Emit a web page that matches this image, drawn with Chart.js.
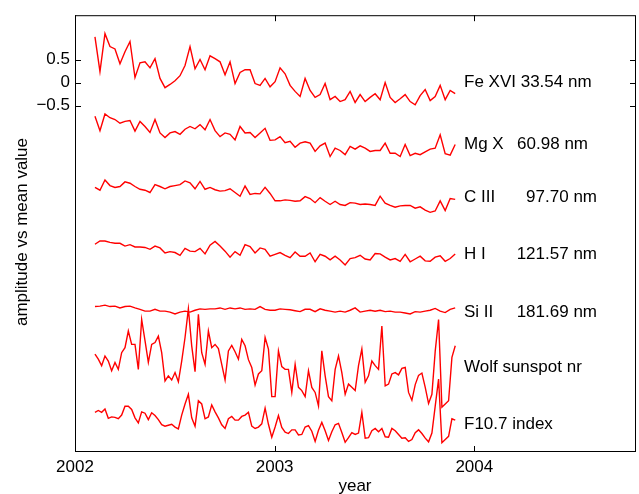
<!DOCTYPE html>
<html>
<head>
<meta charset="utf-8">
<script src="https://cdn.jsdelivr.net/npm/chart.js@4"></script>
<style>
html, body { margin: 0; padding: 0; background: #fff; }
#wrap { width: 639px; height: 494px; }
</style>
</head>
<body>
<div id="wrap"><canvas id="chart" width="639" height="494"></canvas></div>
<script>
// sampling of the daily series (years)
const startYear = 2002.1;
const coarseStep = 0.02506;   // EUV lines
const fineStep = 0.01671;     // sunspot number and F10.7

const yearTicks = [2002, 2003, 2004];
const valueTicks = [-0.5, 0, 0.5];

const names = ['Fe XVI 33.54 nm', 'Mg X', 'C III', 'H I', 'Si II', 'Wolf sunspot nr', 'F10.7 index'];
const wavelengths = ['', '60.98 nm', '97.70 nm', '121.57 nm', '181.69 nm', '', ''];
const offsets = [0, -1.2, -2.4, -3.6, -4.8, -6.0, -7.2];

const feXvi = [0.99,0.24,1.06,0.78,0.73,0.41,0.67,0.89,0.11,0.43,
  0.45,0.32,0.52,0.09,-0.11,-0.04,0.04,0.15,0.37,0.78,
  0.30,0.50,0.28,0.58,0.52,0.45,0.17,0.45,-0.02,0.22,
  0.28,0.28,-0.02,-0.06,0.09,-0.09,0.02,0.32,0.19,-0.06,
  -0.19,-0.30,0.09,-0.17,-0.32,-0.26,-0.02,-0.37,-0.30,-0.41,
  -0.37,-0.19,-0.43,-0.26,-0.41,-0.32,-0.24,-0.37,0.00,-0.32,
  -0.43,-0.35,-0.26,-0.41,-0.48,-0.28,-0.15,-0.39,-0.30,-0.06,
  -0.37,-0.17,-0.24];
const mgX = [0.47,0.16,0.52,0.44,0.40,0.32,0.36,0.38,0.15,0.36,
  0.25,0.12,0.40,0.11,0.01,0.11,0.14,0.08,0.19,0.25,
  0.20,0.29,0.18,0.40,0.16,0.03,0.11,0.08,-0.04,0.25,
  0.11,0.12,0.01,0.11,0.21,-0.05,-0.04,0.03,-0.10,-0.07,
  -0.20,-0.11,-0.08,-0.11,-0.29,-0.17,-0.11,-0.40,-0.22,-0.27,
  -0.36,-0.18,-0.24,-0.17,-0.22,-0.29,-0.27,-0.27,-0.11,-0.33,
  -0.33,-0.40,-0.14,-0.38,-0.33,-0.36,-0.30,-0.24,-0.22,0.07,
  -0.34,-0.37,-0.14];
const cIII = [0.13,0.07,0.29,0.17,0.13,0.15,0.25,0.22,0.15,0.09,
  0.07,0.02,0.19,0.15,0.10,0.15,0.17,0.19,0.27,0.23,
  0.10,0.26,0.09,0.13,0.08,0.05,0.06,0.10,0.02,-0.06,
  0.16,-0.02,0.00,-0.01,0.13,0.00,-0.16,-0.16,-0.14,-0.15,
  -0.17,-0.16,-0.07,-0.11,-0.20,-0.09,-0.17,-0.24,-0.17,-0.24,
  -0.26,-0.20,-0.21,-0.24,-0.23,-0.24,-0.26,-0.06,-0.21,-0.26,
  -0.30,-0.27,-0.26,-0.26,-0.32,-0.29,-0.36,-0.41,-0.38,-0.16,
  -0.37,-0.11,-0.13];
const hI = [0.10,0.17,0.17,0.14,0.12,0.12,0.06,0.09,0.04,0.04,
  0.03,-0.01,0.06,0.02,-0.09,-0.06,-0.08,-0.14,0.01,-0.05,
  -0.06,0.01,-0.11,0.08,0.16,0.06,-0.05,-0.18,-0.06,-0.14,
  0.09,0.05,-0.09,0.02,-0.01,-0.16,-0.12,-0.08,-0.14,-0.19,
  -0.07,-0.16,-0.16,-0.09,-0.28,-0.12,-0.16,-0.24,-0.16,-0.24,
  -0.35,-0.21,-0.19,-0.14,-0.22,-0.24,-0.10,-0.11,-0.18,-0.24,
  -0.21,-0.27,-0.12,-0.28,-0.22,-0.16,-0.26,-0.27,-0.18,-0.15,
  -0.27,-0.21,-0.11];
const siII = [-0.05,-0.04,-0.02,-0.05,-0.04,-0.08,-0.05,-0.04,-0.08,-0.11,
  -0.15,-0.15,-0.11,-0.15,-0.15,-0.17,-0.21,-0.17,-0.15,-0.17,
  -0.13,-0.10,-0.11,-0.10,-0.10,-0.08,-0.11,-0.08,-0.10,-0.08,
  -0.11,-0.10,-0.11,-0.05,-0.11,-0.13,-0.13,-0.10,-0.11,-0.12,
  -0.14,-0.16,-0.11,-0.11,-0.16,-0.10,-0.13,-0.15,-0.17,-0.15,
  -0.17,-0.13,-0.08,-0.17,-0.15,-0.13,-0.15,-0.13,-0.16,-0.15,
  -0.17,-0.17,-0.19,-0.21,-0.16,-0.17,-0.15,-0.13,-0.09,-0.15,
  -0.18,-0.11,-0.08];
const wolf = [0.12,0.01,-0.13,0.08,-0.03,-0.24,-0.06,-0.21,0.15,0.26,
  0.62,0.33,0.33,-0.21,0.87,0.41,-0.06,0.33,0.37,0.51,
  0.15,-0.46,-0.35,-0.44,-0.28,-0.48,-0.03,0.48,1.10,0.30,
  -0.26,0.98,0.15,-0.10,0.62,0.26,0.33,0.24,-0.10,-0.44,
  0.19,0.31,0.17,0.01,0.44,0.30,0.00,-0.17,-0.55,-0.31,
  -0.24,0.48,0.23,-0.80,-0.80,0.19,-0.15,-0.21,-0.21,-0.71,
  -0.10,-0.60,-0.67,-0.80,-0.24,-0.60,-0.71,-1.00,0.19,-0.35,
  -0.80,-0.89,-0.21,0.08,-0.28,-0.75,-0.53,-0.60,-0.67,-0.13,
  0.23,-0.49,-0.35,-0.03,-0.13,-0.21,0.73,-0.57,-0.53,-0.31,
  -0.28,-0.33,-0.19,-0.17,-0.71,-0.88,-0.54,-0.34,-0.29,-0.60,
  -0.95,-0.75,0.19,0.87,-1.03,-0.96,-0.89,0.05,0.30];
const f107 = [0.06,0.10,0.06,0.13,-0.07,-0.04,-0.05,-0.08,0.00,0.19,
  0.19,0.12,-0.06,-0.17,0.07,0.04,-0.10,0.05,-0.01,-0.10,
  -0.21,-0.24,-0.22,-0.20,-0.26,-0.30,0.00,0.24,0.45,-0.06,
  -0.24,0.31,0.24,-0.08,-0.04,0.22,0.07,-0.06,-0.21,-0.29,
  -0.08,-0.03,-0.11,-0.11,-0.03,0.00,0.06,-0.24,-0.29,-0.26,
  -0.19,0.15,-0.20,-0.48,-0.26,-0.01,-0.27,-0.37,-0.40,-0.32,
  -0.32,-0.43,-0.42,-0.26,-0.23,-0.35,-0.57,-0.33,-0.16,-0.34,
  -0.55,-0.36,-0.21,-0.18,-0.38,-0.59,-0.49,-0.38,-0.42,-0.39,
  0.06,-0.50,-0.49,-0.34,-0.29,-0.36,-0.29,-0.47,-0.48,-0.29,
  -0.34,-0.42,-0.50,-0.49,-0.57,-0.53,-0.38,-0.32,-0.40,-0.50,
  -0.58,-0.39,0.20,0.78,-0.60,-0.53,-0.46,-0.08,-0.11];

const series = [feXvi, mgX, cIII, hI, siII, wolf, f107];
const steps = [coarseStep, coarseStep, coarseStep, coarseStep, coarseStep, fineStep, fineStep];

// where the right-hand labels sit (value units) and where the wavelength column ends (px)
const labelLevels = [0, -1.33, -2.49, -3.72, -4.97, -6.17, -7.40];
const waveEnd = [0, 588, 597, 597, 597, 0, 0];

const FONT = '"Liberation Sans", Arial, Helvetica, sans-serif';
const FS = 17;

const datasets = series.map((vals, k) => ({
    data: vals.map((v, i) => ({ x: startYear + i * steps[k], y: v + offsets[k] })),
    borderColor: '#ff0000',
    borderWidth: 1.4,
    pointRadius: 0,
    fill: false,
    tension: 0
}));

const matlabAxes = {
    id: 'matlabAxes',
    afterDraw(chart) {
        const { ctx, chartArea: a, scales: { x, y } } = chart;
        ctx.save();
        ctx.strokeStyle = '#000';
        ctx.lineWidth = 1;
        ctx.strokeRect(a.left + 0.5, a.top + 0.5, a.right - a.left - 1, a.bottom - a.top - 1);

        // inward ticks on all four sides
        ctx.beginPath();
        yearTicks.forEach(t => {
            const px = Math.round(x.getPixelForValue(t)) + 0.5;
            ctx.moveTo(px, a.bottom); ctx.lineTo(px, a.bottom - 6);
            ctx.moveTo(px, a.top); ctx.lineTo(px, a.top + 6);
        });
        valueTicks.forEach(t => {
            const py = Math.round(y.getPixelForValue(t)) + 0.5;
            ctx.moveTo(a.left, py); ctx.lineTo(a.left + 6, py);
            ctx.moveTo(a.right, py); ctx.lineTo(a.right - 6, py);
        });
        ctx.stroke();

        ctx.fillStyle = '#000';
        ctx.font = FS + 'px ' + FONT;
        ctx.textBaseline = 'middle';

        // series labels
        names.forEach((n, k) => {
            const py = y.getPixelForValue(labelLevels[k]);
            ctx.textAlign = 'left';
            ctx.fillText(n, 464, py);
            if (wavelengths[k]) {
                ctx.textAlign = 'right';
                ctx.fillText(wavelengths[k], waveEnd[k], py);
            }
        });

        // axis titles
        ctx.textAlign = 'center';
        ctx.fillText('year', 355, 486);
        ctx.translate(22, 232);
        ctx.rotate(-Math.PI / 2);
        ctx.fillText('amplitude vs mean value', 0, 0);
        ctx.restore();
    }
};

new Chart(document.getElementById('chart'), {
    type: 'line',
    data: { datasets },
    options: {
        responsive: false,
        animation: false,
        devicePixelRatio: 1,
        layout: { padding: { top: 12, right: 3, left: 0, bottom: 0 } },
        plugins: { legend: { display: false }, tooltip: { enabled: false } },
        scales: {
            x: {
                type: 'linear',
                min: 2002,
                max: 2004.81,
                afterBuildTicks: axis => { axis.ticks = yearTicks.map(v => ({ value: v })); },
                afterFit: axis => { axis.height = 42; },
                grid: { drawOnChartArea: false, drawTicks: false },
                border: { display: false },
                ticks: {
                    color: '#000',
                    font: { size: FS, family: FONT },
                    padding: 5,
                    maxRotation: 0,
                    autoSkip: false,
                    callback: v => String(v)
                }
            },
            y: {
                min: -8,
                max: 1.46,
                afterBuildTicks: axis => { axis.ticks = valueTicks.map(v => ({ value: v })); },
                afterFit: axis => { axis.width = 75; },
                grid: { drawOnChartArea: false, drawTicks: false },
                border: { display: false },
                ticks: {
                    color: '#000',
                    font: { size: FS, family: FONT },
                    padding: 5,
                    autoSkip: false,
                    callback: v => v < 0 ? '\u2212' + Math.abs(v) : String(v)
                }
            }
        }
    },
    plugins: [matlabAxes]
});
</script>
</body>
</html>
